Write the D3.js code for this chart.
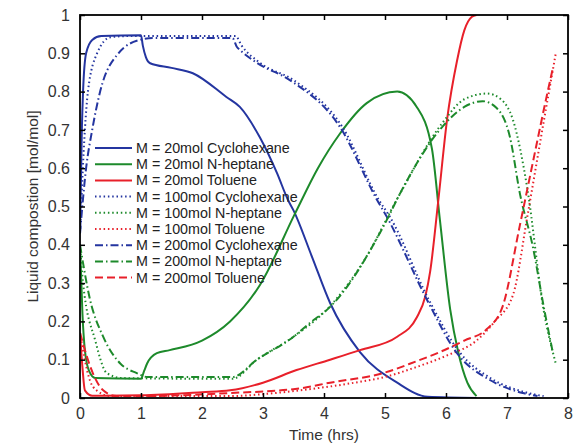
<!DOCTYPE html>
<html>
<head>
<meta charset="utf-8">
<script src="https://cdn.jsdelivr.net/npm/d3@7"></script>
<style>
  body { margin: 0; background: #fff; }
  text { font-family: "Liberation Sans", Arial, sans-serif; }
</style>
</head>
<body>
<svg id="chart" width="573" height="444"></svg>
<script>
const WIDTH = 573;
const HEIGHT = 444;

const xTicks = [0, 1, 2, 3, 4, 5, 6, 7, 8];
const yTicks = [0, 0.1, 0.2, 0.3, 0.4, 0.5, 0.6, 0.7, 0.8, 0.9, 1];

// [time (hrs), composition]
const cyc20 = [[0,0.43],[0.03,0.7],[0.05,0.8],[0.1,0.9],[0.2,0.935],[0.35,0.945],[1.0,0.947],[1.03,0.92],[1.08,0.89],[1.15,0.874],[1.5,0.862],[1.85,0.848],[2.4,0.786],[2.62,0.76],[2.95,0.68],[3.23,0.587],[3.41,0.517],[3.5,0.49],[3.8,0.37],[4.1,0.248],[4.59,0.12],[5.2,0.04],[5.7,0.003],[6.5,0]];
const hep20 = [[0,0.4],[0.04,0.22],[0.08,0.125],[0.15,0.07],[0.25,0.052],[1.0,0.05],[1.05,0.07],[1.1,0.09],[1.26,0.117],[1.47,0.125],[2.0,0.15],[2.46,0.2],[2.95,0.295],[3.52,0.48],[3.9,0.6],[4.26,0.69],[4.7,0.77],[5.2,0.8],[5.52,0.76],[5.77,0.65],[5.9,0.465],[6.07,0.23],[6.2,0.12],[6.35,0.04],[6.5,0.005]];
const tol20 = [[0,0.17],[0.04,0.08],[0.08,0.02],[0.2,0.006],[1.0,0.007],[2.0,0.015],[2.46,0.02],[3.0,0.04],[3.55,0.073],[4.1,0.1],[4.59,0.125],[5.2,0.16],[5.52,0.21],[5.66,0.265],[5.74,0.33],[5.87,0.51],[6.02,0.73],[6.18,0.88],[6.3,0.96],[6.42,0.995],[6.5,1]];
const cyc100 = [[0,0.43],[0.08,0.7],[0.13,0.8],[0.28,0.9],[0.5,0.942],[0.8,0.945],[2.55,0.945],[2.65,0.92],[2.95,0.875],[3.5,0.83],[4.3,0.708],[4.9,0.517],[5.08,0.473],[5.72,0.256],[6.22,0.12],[6.75,0.05],[7.3,0.015],[7.6,0.005]];
const hep100 = [[0,0.4],[0.05,0.3],[0.25,0.15],[0.44,0.065],[0.7,0.052],[2.5,0.05],[2.9,0.1],[3.5,0.16],[4.1,0.24],[4.7,0.37],[5.2,0.52],[5.95,0.72],[6.3,0.78],[6.67,0.795],[6.9,0.78],[7.1,0.725],[7.33,0.55],[7.6,0.23],[7.8,0.09]];
const tol100 = [[0,0.17],[0.16,0.047],[0.27,0.02],[0.5,0.005],[2.5,0.005],[3.0,0.01],[3.6,0.02],[4.5,0.04],[5.0,0.055],[5.5,0.08],[6.0,0.11],[6.5,0.15],[6.8,0.2],[7.1,0.27],[7.34,0.48],[7.6,0.72],[7.8,0.9]];
const cyc200 = [[0,0.43],[0.1,0.6],[0.2,0.7],[0.33,0.8],[0.63,0.9],[0.98,0.935],[1.2,0.94],[2.5,0.94],[2.57,0.917],[2.62,0.909],[2.9,0.875],[3.44,0.83],[4.26,0.708],[4.87,0.517],[5.03,0.473],[5.69,0.256],[6.18,0.117],[6.72,0.047],[7.26,0.013],[7.5,0.005]];
const hep200 = [[0,0.4],[0.16,0.26],[0.38,0.16],[0.66,0.09],[0.93,0.065],[1.1,0.055],[2.5,0.055],[2.9,0.1],[3.5,0.16],[3.77,0.196],[4.1,0.238],[5.03,0.465],[5.25,0.535],[5.95,0.71],[6.3,0.76],[6.6,0.775],[6.83,0.757],[7.05,0.68],[7.21,0.535],[7.43,0.39],[7.6,0.24],[7.75,0.12]];
const tol200 = [[0,0.17],[0.21,0.065],[0.38,0.02],[0.6,0.005],[1.0,0.005],[2.46,0.013],[3.6,0.025],[4.1,0.04],[4.97,0.065],[5.5,0.095],[5.9,0.12],[6.3,0.15],[6.67,0.18],[6.93,0.24],[7.21,0.45],[7.43,0.62],[7.66,0.795],[7.75,0.86]];

const BLUE = '#2435a0';
const GREEN = '#1d8a2b';
const RED = '#e8202a';
const SOLID = null;
const DOTTED = '1.5,2.8';
const DASHDOT = '8,3,1.5,3';
const DASHED = '8,4';

const series = [
  { name: 'M = 20mol Cyclohexane', data: cyc20, color: BLUE, dash: SOLID },
  { name: 'M = 20mol N-heptane', data: hep20, color: GREEN, dash: SOLID },
  { name: 'M = 20mol Toluene', data: tol20, color: RED, dash: SOLID },
  { name: 'M = 100mol Cyclohexane', data: cyc100, color: BLUE, dash: DOTTED },
  { name: 'M = 100mol N-heptane', data: hep100, color: GREEN, dash: DOTTED },
  { name: 'M = 100mol Toluene', data: tol100, color: RED, dash: DOTTED },
  { name: 'M = 200mol Cyclohexane', data: cyc200, color: BLUE, dash: DASHDOT },
  { name: 'M = 200mol N-heptane', data: hep200, color: GREEN, dash: DASHDOT },
  { name: 'M = 200mol Toluene', data: tol200, color: RED, dash: DASHED }
];

const x = d3.scaleLinear().domain([0, 8]).range([80, 568]);
const y = d3.scaleLinear().domain([0, 1]).range([398, 15]);

const svg = d3.select('#chart');

svg.append('defs').append('clipPath').attr('id', 'plot-clip')
  .append('rect')
  .attr('x', x(0)).attr('y', y(1))
  .attr('width', x(8) - x(0)).attr('height', y(0) - y(1));

const line = d3.line()
  .x(d => x(d[0]))
  .y(d => y(d[1]))
  .curve(d3.curveMonotoneX);

svg.append('g')
  .attr('clip-path', 'url(#plot-clip)')
  .selectAll('path')
  .data(series)
  .enter()
  .append('path')
  .attr('d', d => line(d.data))
  .attr('fill', 'none')
  .attr('stroke', d => d.color)
  .attr('stroke-width', 2)
  .attr('stroke-dasharray', d => d.dash);

// axes: box with inward ticks on all sides
const tickStyle = g => {
  g.select('.domain').remove();
  g.selectAll('line').attr('stroke', '#000').attr('stroke-width', 1.5);
  g.selectAll('text').attr('fill', '#333').style('font-size', '16px');
};

svg.append('g')
  .attr('transform', `translate(0,${y(0)})`)
  .call(d3.axisBottom(x).tickValues(xTicks).tickFormat(d3.format('d')).tickSizeInner(-5).tickPadding(10))
  .call(tickStyle);

svg.append('g')
  .attr('transform', `translate(0,${y(1)})`)
  .call(d3.axisTop(x).tickValues(xTicks).tickFormat('').tickSizeInner(-5))
  .call(tickStyle);

svg.append('g')
  .attr('transform', `translate(${x(0)},0)`)
  .call(d3.axisLeft(y).tickValues(yTicks).tickFormat(d => d === 0 || d === 1 ? d3.format('d')(d) : d3.format('.1f')(d)).tickSizeInner(-5).tickPadding(10))
  .call(tickStyle);

svg.append('g')
  .attr('transform', `translate(${x(8)},0)`)
  .call(d3.axisRight(y).tickValues(yTicks).tickFormat('').tickSizeInner(-5))
  .call(tickStyle);

svg.append('rect')
  .attr('x', x(0)).attr('y', y(1))
  .attr('width', x(8) - x(0)).attr('height', y(0) - y(1))
  .attr('fill', 'none')
  .attr('stroke', '#000')
  .attr('stroke-width', 1.8);

svg.append('text')
  .attr('x', (x(0) + x(8)) / 2)
  .attr('y', 440)
  .attr('text-anchor', 'middle')
  .attr('fill', '#333')
  .style('font-size', '15.5px')
  .text('Time (hrs)');

svg.append('text')
  .attr('transform', `translate(38,${(y(0) + y(1)) / 2}) rotate(-90)`)
  .attr('text-anchor', 'middle')
  .attr('fill', '#333')
  .style('font-size', '15.5px')
  .text('Liquid compostion [mol/mol]');

// legend
const legend = svg.append('g')
  .selectAll('g')
  .data(series)
  .enter()
  .append('g')
  .attr('transform', (d, i) => `translate(95, ${148 + i * 16.2})`);

legend.append('line')
  .attr('x1', 0).attr('x2', 37)
  .attr('stroke', d => d.color)
  .attr('stroke-width', 2)
  .attr('stroke-dasharray', d => d.dash);

legend.append('text')
  .attr('x', 41)
  .attr('y', 5)
  .attr('fill', '#222')
  .style('font-size', '14.3px')
  .text(d => d.name);
</script>
</body>
</html>
